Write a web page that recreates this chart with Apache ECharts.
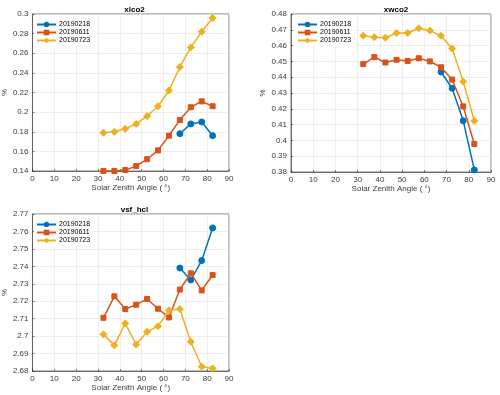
<!DOCTYPE html>
<html>
<head>
<meta charset="utf-8">
<script src="https://cdn.jsdelivr.net/npm/echarts@6/dist/echarts.min.js"></script>
<style>
  html, body { margin: 0; padding: 0; background: #fff; }
  #chart { width: 500px; height: 395px; }
</style>
</head>
<body>
<div id="chart"></div>
<script>
// solar zenith angle bins
var sza = [32.5, 37.5, 42.5, 47.5, 52.5, 57.5, 62.5, 67.5, 72.5, 77.5, 82.5];
var szaFeb = [67.5, 72.5, 77.5, 82.5];
var dates = ['20190218', '20190611', '20190723'];

// xlco2
var xlco2_0218 = [0.178, 0.188, 0.190, 0.176];
var xlco2_0611 = [0.140, 0.140, 0.141, 0.145, 0.152, 0.161, 0.176, 0.192, 0.205, 0.211, 0.206];
var xlco2_0723 = [0.179, 0.180, 0.183, 0.188, 0.196, 0.206, 0.222, 0.246, 0.266, 0.282, 0.296];

// xwco2
var xwco2_0218 = [0.4433, 0.4330, 0.4124, 0.3813];
var xwco2_0611 = [0.4483, 0.4527, 0.4493, 0.4510, 0.4503, 0.4520, 0.4500, 0.4463, 0.4385, 0.4215, 0.3977];
var xwco2_0723 = [0.4663, 0.4653, 0.4650, 0.4680, 0.4680, 0.4710, 0.4695, 0.4662, 0.4582, 0.4372, 0.4123];

// vsf_hcl
var hcl_0218 = [2.7390, 2.7322, 2.7433, 2.7620];
var hcl_0611 = [2.7105, 2.7228, 2.7155, 2.7180, 2.7213, 2.7157, 2.7107, 2.7267, 2.7360, 2.7262, 2.7350];
var hcl_0723 = [2.7010, 2.6947, 2.7073, 2.6952, 2.7025, 2.7057, 2.7148, 2.7155, 2.6968, 2.6825, 2.6815];

var titles = ['xlco2', 'xwco2', 'vsf_hcl'];
var yMin = [0.14, 0.38, 2.68];
var yMax = [0.30, 0.48, 2.77];
var yStep = [0.02, 0.01, 0.01];

var colors = ['#0072BD', '#D95319', '#EDB120'];
var symbols = ['circle', 'rect', 'diamond'];
var symSizes = [6, 5, 7];

var grids = [
  {left: 30, top: 14, width: 199, height: 157},
  {left: 291, top: 14, width: 200, height: 158},
  {left: 30, top: 214, width: 199, height: 157}
];

var seriesData = [
  [xlco2_0218, xlco2_0611, xlco2_0723],
  [xwco2_0218, xwco2_0611, xwco2_0723],
  [hcl_0218, hcl_0611, hcl_0723]
];

function pairs(xs, ys) {
  return ys.map(function (v, i) { return [xs[i], v]; });
}

function fmt(v) {
  return String(parseFloat(v.toFixed(4)));
}

var axisFont = {fontSize: 8, color: '#3a3a3a', fontFamily: 'Liberation Sans'};

var option = {
  animation: false,
  backgroundColor: '#fff',
  title: [],
  legend: [],
  grid: [],
  xAxis: [],
  yAxis: [],
  series: []
};

grids.forEach(function (g, k) {
  option.grid.push({
    left: g.left, top: g.top, width: g.width, height: g.height,
    show: true, borderColor: '#262626', borderWidth: 0.6, backgroundColor: '#fff'
  });
  option.title.push({
    text: titles[k],
    left: g.left + g.width / 2,
    top: g.top - 13,
    textAlign: 'center',
    textStyle: {fontSize: 8, fontWeight: 'bold', color: '#000', fontFamily: 'Liberation Sans'}
  });
  option.xAxis.push({
    type: 'value', gridIndex: k, min: 0, max: 90, interval: 10,
    name: 'Solar Zenith Angle ( °)', nameLocation: 'middle', nameGap: 13,
    nameTextStyle: {fontSize: 8, color: '#3a3a3a', fontFamily: 'Liberation Sans'},
    axisLine: {show: true, lineStyle: {color: '#262626', width: 0.6}},
    axisTick: {show: true, inside: true, length: 2, lineStyle: {color: '#262626', width: 0.6}},
    axisLabel: Object.assign({margin: 4}, axisFont),
    splitLine: {show: true, lineStyle: {color: '#e3e3e3', width: 0.6}}
  });
  option.yAxis.push({
    type: 'value', gridIndex: k, min: yMin[k], max: yMax[k], interval: yStep[k],
    name: '%', nameLocation: 'middle', nameGap: k === 1 ? 24 : 22, nameRotate: 90,
    nameTextStyle: {fontSize: 8, color: '#3a3a3a', fontFamily: 'Liberation Sans'},
    axisLine: {show: true, lineStyle: {color: '#262626', width: 0.6}},
    axisTick: {show: true, inside: true, length: 2, lineStyle: {color: '#262626', width: 0.6}},
    axisLabel: Object.assign({margin: 4, formatter: fmt}, axisFont),
    splitLine: {show: true, lineStyle: {color: '#e3e3e3', width: 0.6}}
  });
  option.legend.push({
    left: g.left + 4, top: g.top + 5,
    orient: 'vertical', itemGap: 1, itemWidth: 19, itemHeight: 7,
    padding: [2, 4, 2, 2],
    backgroundColor: '#fff', borderColor: '#fff', borderWidth: 0,
    textStyle: {fontSize: 7, color: '#000', fontFamily: 'Liberation Sans', padding: [0, 0, 0, -2]},
    data: dates.slice(),
    selectedMode: false
  });
  dates.forEach(function (d, i) {
    var xs = i === 0 ? szaFeb : sza;
    option.series.push({
      name: d,
      type: 'line',
      xAxisIndex: k, yAxisIndex: k,
      data: pairs(xs, seriesData[k][i]),
      symbol: symbols[i],
      symbolSize: symSizes[i],
      showAllSymbol: true,
      lineStyle: {color: colors[i], width: 1.5},
      itemStyle: {color: colors[i], borderColor: colors[i]},
      z: 2 + i
    });
  });
});

var chart = echarts.init(document.getElementById('chart'), null, {renderer: 'canvas'});
chart.setOption(option);
</script>
</body>
</html>
